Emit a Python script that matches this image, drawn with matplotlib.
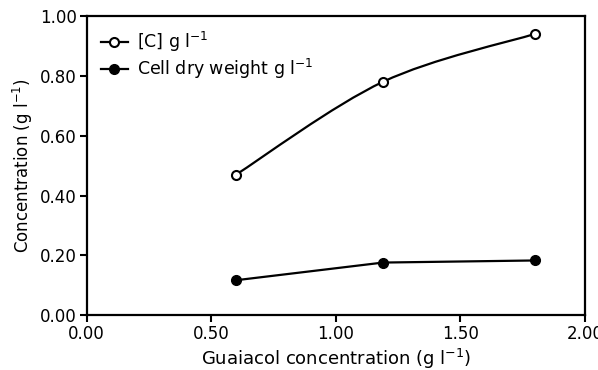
import numpy as np
import matplotlib.pyplot as plt
from matplotlib.path import Path
from matplotlib.patches import PathPatch

plt.rcParams['font.family'] = ['DejaVu Sans']
plt.rcParams['mathtext.fontset'] = 'dejavusans'

guaiacol = [0.60, 1.19, 1.80]
conc_c = [0.47, 0.78, 0.94]
cell_dw = [0.117, 0.176, 0.183]


def smooth_path(xs, ys):
    # Catmull-Rom -> cubic bezier, just to draw a curved line through the points
    pts = np.column_stack([xs, ys])
    verts = [pts[0]]
    codes = [Path.MOVETO]
    n = len(pts)
    for i in range(n - 1):
        p0 = pts[i - 1] if i > 0 else pts[i]
        p1 = pts[i]
        p2 = pts[i + 1]
        p3 = pts[i + 2] if i + 2 < n else pts[i + 1]
        c1 = p1 + (p2 - p0) / 6.0
        c2 = p2 - (p3 - p1) / 6.0
        verts += [c1, c2, p2]
        codes += [Path.CURVE4] * 3
    return Path(verts, codes)


fig, ax = plt.subplots(figsize=(5.98, 3.70), dpi=100)
fig.subplots_adjust(left=0.145, right=0.978, top=0.957, bottom=0.148)

ax.add_patch(PathPatch(smooth_path(guaiacol, conc_c), fill=False, lw=1.6, color='black', zorder=2))
ax.plot(guaiacol, conc_c, ls='none', marker='o', ms=6.5, mfc='white', mec='black', mew=1.5,
        zorder=3)
ax.plot([], [], '-o', color='black', lw=1.6, ms=6.5, mfc='white', mec='black', mew=1.5,
        label='[C] g l$^{-1}$')
ax.plot(guaiacol, cell_dw, '-o', color='black', lw=1.6, ms=7, mfc='black',
        label='Cell dry weight g l$^{-1}$', zorder=3)

ax.set_xlim(0, 2)
ax.set_ylim(0, 1)
ax.set_xticks([0, 0.5, 1.0, 1.5, 2.0])
ax.set_xticklabels(['0.00', '0.50', '1.00', '1.50', '2.00'])
ax.set_yticks([0, 0.2, 0.4, 0.6, 0.8, 1.0])
ax.set_yticklabels(['0.00', '0.20', '0.40', '0.60', '0.80', '1.00'])
ax.tick_params(axis='both', direction='out', length=5, width=1.5, labelsize=12, pad=2)
for s in ax.spines.values():
    s.set_linewidth(1.6)

ax.set_xlabel('Guaiacol concentration (g l$^{-1}$)', fontsize=13, labelpad=3)
ax.set_ylabel('Concentration (g l$^{-1}$)', fontsize=12, labelpad=4)

ax.legend(loc='upper left', frameon=False, fontsize=12.5, handlelength=1.6, handletextpad=0.5,
          borderaxespad=0.4, labelspacing=0.2)

fig.savefig('out.png', dpi=100)
